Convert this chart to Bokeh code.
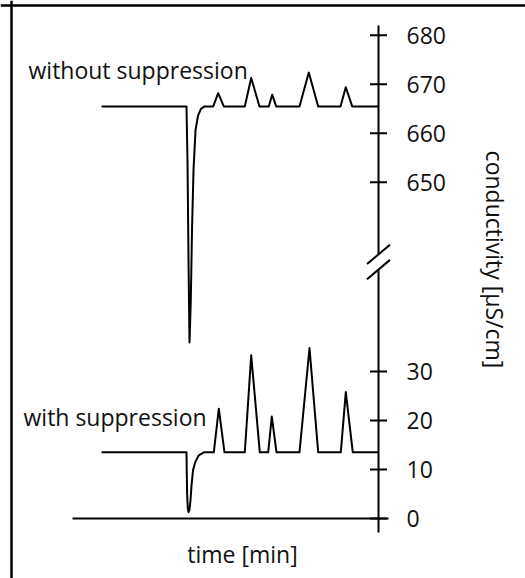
import numpy as np
from bokeh.plotting import figure
from bokeh.models import Range1d, Span
from bokeh.core.properties import value
from bokeh.embed import file_html
from bokeh.resources import INLINE

# ---------------- data ----------------
# time in arbitrary minutes, conductivity in µS/cm
t_without = [0.95, 3.725, 3.758, 3.791, 3.824, 3.866, 3.905, 3.954, 4.020, 4.101, 4.199, 4.314,
             4.598, 4.761, 4.944, 5.631, 5.840, 6.111, 6.415, 6.526, 6.657,
             7.418, 7.722, 8.029, 8.758, 8.931, 9.141, 10.0]
g_without = [665.5, 665.5, 654.5, 634.1, 617.3, 625.9, 640.2, 652.4, 660.6, 663.6, 665.0, 665.5,
             665.5, 668.2, 665.5, 665.5, 671.3, 665.5, 665.5, 667.9, 665.5,
             665.5, 672.4, 665.5, 665.5, 669.4, 665.5, 665.5]

t_with = [0.95, 3.725, 3.735, 3.748, 3.768, 3.791, 3.824, 3.856, 3.889, 3.938, 4.003, 4.127, 4.291,
          4.618, 4.781, 4.967, 5.631, 5.840, 6.121, 6.395, 6.513, 6.667,
          7.418, 7.745, 8.029, 8.768, 8.931, 9.160, 10.0]
g_with = [13.5, 13.5, 8.8, 4.7, 2.0, 1.3, 1.8, 3.7, 6.7, 9.8, 11.4, 12.9, 13.5,
          13.5, 22.4, 13.5, 13.5, 33.3, 13.5, 13.5, 20.8, 13.5,
          13.5, 34.8, 13.5, 13.5, 25.8, 13.5, 13.5]

upper_ticks = [650, 660, 670, 680]
lower_ticks = [0, 10, 20, 30]

# ---------------- layout constants ----------------
SHIFT = 581.4          # upper (broken) scale: display = value - SHIFT
AXIS_T = 10.0          # time at which the conductivity axis stands
X_PER = 30.6           # px per minute
Y_PER = 4.9            # px per µS/cm
FONT = value("Open Sans")
FS = "23px"
INK = "#111111"

p = figure(width=525, height=578,
           x_range=Range1d(-72 / X_PER, (525 - 72) / X_PER),
           y_range=Range1d((518 - 578) / Y_PER, 518 / Y_PER),
           x_axis_type=None, y_axis_type=None,
           toolbar_location=None, output_backend="svg",
           min_border=0, outline_line_color=None,
           background_fill_color="white", border_fill_color="white")

# frame border (left and top edges visible)
p.add_layout(Span(location=(11 - 72) / X_PER, dimension="height", line_color="black", line_width=2.5))
p.add_layout(Span(location=(518 - 5) / Y_PER, dimension="width", line_color="black", line_width=2.5))

# traces
p.line(t_without, np.array(g_without) - SHIFT, line_color="black", line_width=2, line_join="round")
p.line(t_with, g_with, line_color="black", line_width=2, line_join="round")

# time axis (horizontal at 0)
p.segment(x0=[0.0], y0=[0.0], x1=[AXIS_T + 10 / X_PER], y1=[0.0], line_color="black", line_width=2)

# conductivity axis with a break
upper_top = 682.0 - SHIFT
break_hi = 53.9
break_lo = 50.8
lower_bottom = -14 / Y_PER
p.segment(x0=[AXIS_T, AXIS_T], y0=[upper_top, break_lo], x1=[AXIS_T, AXIS_T], y1=[break_hi, lower_bottom],
          line_color="black", line_width=2)
dx, dy = 11.5 / X_PER, 9.7 / Y_PER
p.segment(x0=[AXIS_T - dx, AXIS_T - dx], y0=[break_hi - dy, break_lo - dy],
          x1=[AXIS_T + dx, AXIS_T + dx], y1=[break_hi + dy, break_lo + dy],
          line_color="black", line_width=2)

tick_pos = [v - SHIFT for v in upper_ticks] + lower_ticks
tick_txt = [str(v) for v in upper_ticks] + [str(v) for v in lower_ticks]
p.scatter([AXIS_T] * len(tick_pos), tick_pos, marker="dash", size=17, line_color="black", line_width=2)
p.text([AXIS_T] * len(tick_pos), tick_pos, text=tick_txt, x_offset=28,
       text_align="left", text_baseline="middle", text_font=FONT, text_font_size=FS, text_color=INK)

# labels
p.text([(28 - 72) / X_PER], [(518 - 69) / Y_PER], text=["without suppression"],
       text_align="left", text_baseline="alphabetic", text_font=FONT, text_font_size=FS, text_color=INK)
p.text([(23 - 72) / X_PER], [(518 - 416) / Y_PER], text=["with suppression"],
       text_align="left", text_baseline="alphabetic", text_font=FONT, text_font_size=FS, text_color=INK)
p.text([(242 - 72) / X_PER], [(518 - 553) / Y_PER], text=["time [min]"],
       text_align="center", text_baseline="alphabetic", text_font=FONT, text_font_size=FS, text_color=INK)
p.text([(494 - 72) / X_PER], [(518 - 259) / Y_PER], text=["conductivity [µS/cm]"], angle=-np.pi / 2,
       text_align="center", text_baseline="middle", text_font=FONT, text_font_size=FS, text_color=INK)

open("out.html", "w").write(file_html(p, INLINE))
